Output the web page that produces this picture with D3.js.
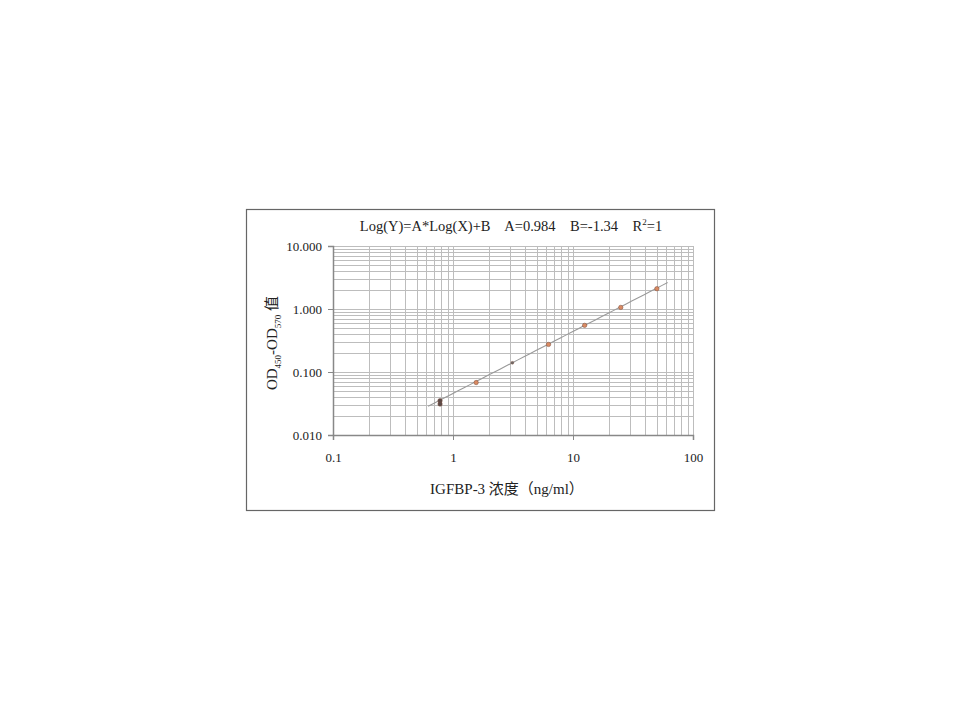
<!DOCTYPE html>
<html>
<head>
<meta charset="utf-8">
<script src="https://cdn.jsdelivr.net/npm/d3@7"></script>
<style>
  body { margin: 0; background: #fff; }
  svg { display: block; }
  text { font-family: "Liberation Serif", "Noto Sans CJK SC", serif; fill: #222; }
</style>
</head>
<body>
<svg id="svg" width="960" height="720"></svg>
<script>
// --- Data ------------------------------------------------------------------
const conc = [0.78, 0.78, 1.56, 3.125, 6.25, 12.5, 25, 50];          // ng/ml
const od = [0.035, 0.031, 0.068, 0.140, 0.274, 0.55, 1.06, 2.1];    // OD450-OD570
const pointColors = ["#5a4a48", "#5a4a48", "#d98a62", "#6b6b6b", "#d98a62", "#d98a62", "#d98a62", "#d98a62"];
const fitA = 0.984, fitB = -1.34;
const fitRange = [0.62, 61.5];
const xTicks = [0.1, 1, 10, 100];
const yTicks = [0.01, 0.1, 1, 10];

// --- Layout ----------------------------------------------------------------
const svg = d3.select("#svg");
const plot = { left: 333, right: 693, top: 246, bottom: 435 };

svg.append("rect")
  .attr("x", 246.5).attr("y", 209.5).attr("width", 468).attr("height", 301)
  .attr("fill", "#fff").attr("stroke", "#666").attr("stroke-width", 1.2);

const x = d3.scaleLog().domain([0.1, 100]).range([plot.left, plot.right]);
const y = d3.scaleLog().domain([0.01, 10]).range([plot.bottom, plot.top]);

// minor + major gridlines (1..9 in each decade)
const minor = (lo, hi) => {
  const out = [];
  for (let e = Math.log10(lo); e < Math.log10(hi); e++)
    for (let m = 1; m <= 9; m++) out.push(m * Math.pow(10, e));
  out.push(hi);
  return out;
};

const grid = svg.append("g").attr("stroke", "#bdbdbd").attr("stroke-width", 1);
grid.selectAll("line.v").data(minor(0.1, 100)).enter().append("line")
  .attr("x1", d => Math.round(x(d)) + 0.5).attr("x2", d => Math.round(x(d)) + 0.5)
  .attr("y1", plot.top).attr("y2", plot.bottom);
grid.selectAll("line.h").data(minor(0.01, 10)).enter().append("line")
  .attr("y1", d => Math.round(y(d)) + 0.5).attr("y2", d => Math.round(y(d)) + 0.5)
  .attr("x1", plot.left).attr("x2", plot.right);

// axes
const xAxis = d3.axisBottom(x).tickValues(xTicks).tickSize(5).tickFormat(d3.format("~g"));
const yAxis = d3.axisLeft(y).tickValues(yTicks).tickSize(5).tickFormat(d3.format(".3f"));

const gx = svg.append("g").attr("transform", `translate(0,${plot.bottom})`).call(xAxis);
const gy = svg.append("g").attr("transform", `translate(${plot.left},0)`).call(yAxis);
[gx, gy].forEach(g => {
  g.select(".domain").attr("stroke", "#888").attr("stroke-width", 1.5);
  g.selectAll(".tick line").attr("stroke", "#888");
  g.selectAll(".tick text").attr("font-size", 13).attr("fill", "#3a3a3a")
    .style("font-family", "'Liberation Serif', serif");
});
gx.selectAll(".tick text").attr("dy", "1.45em");
gy.selectAll(".tick text").attr("x", -11);

// fit line
const fit = d => Math.pow(10, fitA * Math.log10(d) + fitB);
const fitPts = d3.range(0, 41).map(i => {
  const lx = Math.log10(fitRange[0]) + i / 40 * (Math.log10(fitRange[1]) - Math.log10(fitRange[0]));
  return Math.pow(10, lx);
});
svg.append("path")
  .datum(fitPts)
  .attr("fill", "none").attr("stroke", "#9a9a9a").attr("stroke-width", 1.1)
  .attr("d", d3.line().x(d => x(d)).y(d => y(fit(d))));

// points
svg.append("g").selectAll("circle")
  .data(conc.map((c, i) => ({ c, v: od[i], col: pointColors[i] })))
  .enter().append("circle")
  .attr("cx", d => x(d.c)).attr("cy", d => y(d.v))
  .attr("r", (d, i) => i === 3 ? 1.4 : 2.2)
  .attr("fill", d => d.col).attr("stroke", "#7a4a3a").attr("stroke-width", 0.5);

// title
const title = svg.append("text")
  .attr("x", 511).attr("y", 231).attr("text-anchor", "middle")
  .attr("font-size", 14.5).attr("xml:space", "preserve");
title.append("tspan").text("Log(Y)=A*Log(X)+B    A=0.984    B=-1.34    R");
title.append("tspan").attr("font-size", 9).attr("dy", -6).text("2");
title.append("tspan").attr("dy", 6).text("=1");

// x label
svg.append("text")
  .attr("x", 507).attr("y", 494).attr("text-anchor", "middle")
  .attr("font-size", 15)
  .text("IGFBP-3 浓度（ng/ml）");

// y label
const yl = svg.append("text")
  .attr("transform", "translate(277,343) rotate(-90)")
  .attr("text-anchor", "middle").attr("font-size", 15);
yl.append("tspan").text("OD");
yl.append("tspan").attr("font-size", 9).attr("dy", 4).text("450");
yl.append("tspan").attr("dy", -4).text("-OD");
yl.append("tspan").attr("font-size", 9).attr("dy", 4).text("570");
yl.append("tspan").attr("dy", -4).text(" 值");
</script>
</body>
</html>
